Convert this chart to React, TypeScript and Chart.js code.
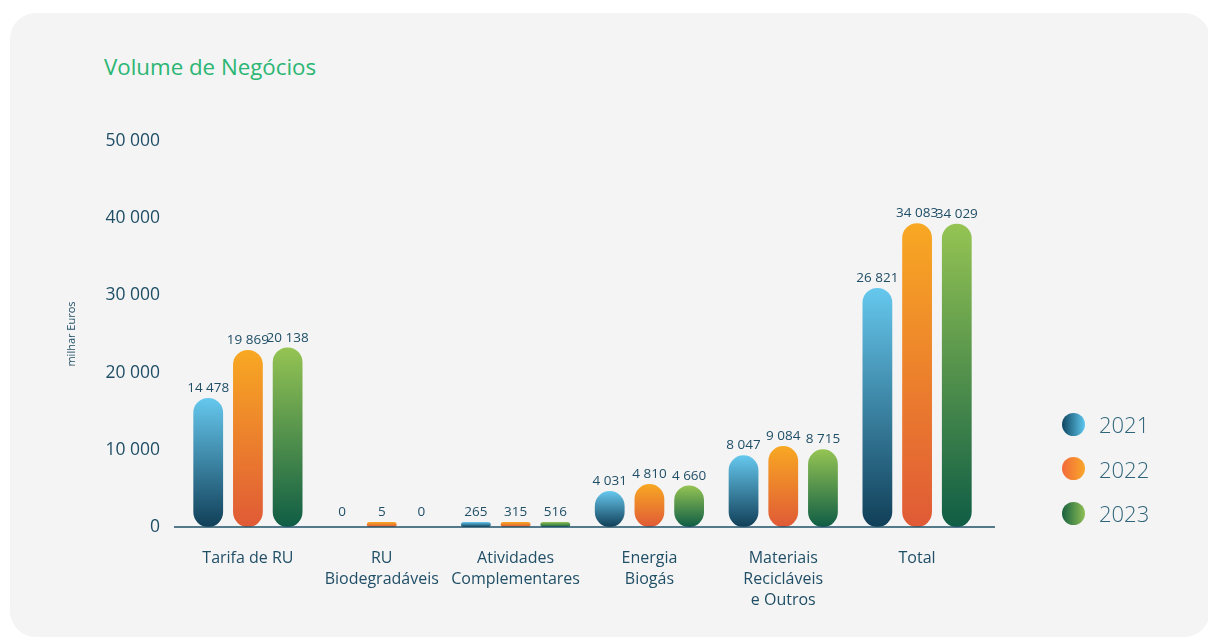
import React, { useEffect, useRef } from "react";
import { Chart, registerables } from "chart.js";

Chart.register(...registerables);

const categories: string[][] = [
  ["Tarifa de RU"],
  ["RU", "Biodegradáveis"],
  ["Atividades", "Complementares"],
  ["Energia", "Biogás"],
  ["Materiais", "Recicláveis", "e Outros"],
  ["Total"],
];
const years = ["2021", "2022", "2023"];
const values2021 = [14478, 0, 265, 4031, 8047, 26821];
const values2022 = [19869, 5, 315, 4810, 9084, 34083];
const values2023 = [20138, 0, 516, 4660, 8715, 34029];
const yTicks = [0, 10000, 20000, 30000, 40000, 50000];
const barScaleMax = 43300;

const barTop = ["#66c8ee", "#f8a823", "#95c453"];
const barBottom = ["#113f58", "#e05a36", "#0f5d45"];
const legendLeft = ["#0f4660", "#f26a3b", "#17613f"];
const legendRight = ["#5fc8ef", "#f9a72a", "#8fbf55"];

const TEXT = "#1f4e66";
const FONT = "'Open Sans', 'Noto Sans', sans-serif";

const fmt = (v: number) => String(v).replace(/\B(?=(\d{3})+(?!\d))/g, " ");

const baselinePlugin = {
  id: "baseline",
  afterDatasetsDraw(chart: any) {
    const { ctx, chartArea } = chart;
    const y = chart.scales.yb.getPixelForValue(0);
    ctx.save();
    ctx.strokeStyle = "#1f5069";
    ctx.lineWidth = 1.6;
    ctx.beginPath();
    ctx.moveTo(chartArea.left - 7, y);
    ctx.lineTo(chartArea.right + 11, y);
    ctx.stroke();
    ctx.restore();
  },
};

const labelPlugin = {
  id: "valueLabels",
  afterDatasetsDraw(chart: any) {
    const { ctx } = chart;
    ctx.save();
    ctx.font = `13.5px ${FONT}`;
    ctx.fillStyle = TEXT;
    ctx.textAlign = "center";
    ctx.textBaseline = "bottom";
    chart.data.datasets.forEach((ds: any, di: number) => {
      const meta = chart.getDatasetMeta(di);
      meta.data.forEach((bar: any, i: number) => {
        ctx.fillText(fmt(ds.data[i]), bar.x, bar.y - 3);
      });
    });
    ctx.restore();
  },
};

export default function App() {
  const ref = useRef<HTMLCanvasElement | null>(null);

  useEffect(() => {
    if (!ref.current) return;
    const series = [values2021, values2022, values2023];
    const chart = new Chart(ref.current, {
      type: "bar",
      data: {
        labels: categories,
        datasets: series.map((vals, si) => ({
          label: years[si],
          data: vals,
          yAxisID: "yb",
          backgroundColor: (c: any) => {
            const v = c.raw as number;
            if (!v) return "rgba(0,0,0,0)";
            const sc = c.chart.scales.yb;
            if (!sc || !c.chart.chartArea) return barTop[si];
            const base = sc.getPixelForValue(0);
            let top = sc.getPixelForValue(v);
            if (base - top < 5) top = base - 5;
            const g = c.chart.ctx.createLinearGradient(0, top, 0, base);
            g.addColorStop(0, barTop[si]);
            g.addColorStop(1, barBottom[si]);
            return g;
          },
          borderRadius: 15,
          borderSkipped: false,
          borderWidth: 0,
          minBarLength: 5,
          categoryPercentage: 0.89,
          barPercentage: 0.75,
        })),
      },
      options: {
        responsive: false,
        animation: false,
        events: [],
        layout: { padding: { left: 55, right: 226, top: 128, bottom: 0 } },
        plugins: {
          legend: { display: false },
          title: { display: false },
          tooltip: { enabled: false },
        },
        scales: {
          x: {
            grid: { display: false, drawTicks: false },
            border: { display: false },
            ticks: {
              color: TEXT,
              font: { family: FONT, size: 16, lineHeight: 1.32 },
              padding: 21,
              maxRotation: 0,
              autoSkip: false,
            },
            afterFit: (s: any) => {
              s.height = 110;
            },
          },
          y: {
            type: "linear",
            position: "left",
            min: 0,
            max: 50000,
            grid: { display: false, drawTicks: false },
            border: { display: false },
            afterBuildTicks: (s: any) => {
              s.ticks = yTicks.map((v) => ({ value: v }));
            },
            ticks: {
              color: TEXT,
              font: { family: FONT, size: 17.5 },
              padding: 21,
              callback: (v: any) => fmt(Number(v)),
            },
            title: {
              display: true,
              text: "milhar Euros",
              color: TEXT,
              font: { family: FONT, size: 11 },
              padding: 0,
            },
            afterFit: (s: any) => {
              s.width = 116;
            },
          },
          yb: {
            type: "linear",
            display: false,
            min: 0,
            max: barScaleMax,
          },
        },
      },
      plugins: [baselinePlugin, labelPlugin],
    } as any);
    return () => chart.destroy();
  }, []);

  return (
    <div
      style={{
        position: "fixed",
        left: 10,
        top: 13,
        width: 1200,
        height: 624,
        background: "#f4f4f4",
        borderRadius: 26,
        overflow: "hidden",
        fontFamily: FONT,
      }}
    >
      <div
        style={{
          position: "absolute",
          left: 94,
          top: 39,
          fontSize: 22.3,
          lineHeight: "30px",
          color: "#2bb673",
          whiteSpace: "nowrap",
        }}
      >
        Volume de Negócios
      </div>
      <canvas
        ref={ref}
        width={1200}
        height={624}
        style={{ position: "absolute", left: 0, top: 0, width: 1200, height: 624 }}
      />
      <div style={{ position: "absolute", left: 1052, top: 389 }}>
        {years.map((y, i) => (
          <div
            key={y}
            style={{ display: "flex", alignItems: "center", height: 44.5 }}
          >
            <span
              style={{
                display: "inline-block",
                width: 23,
                height: 23,
                borderRadius: "50%",
                background: `linear-gradient(to right, ${legendLeft[i]}, ${legendRight[i]})`,
              }}
            />
            <span
              style={{
                marginLeft: 14,
                fontSize: 22,
                fontWeight: 300,
                color: "#2f657b",
                lineHeight: "30px",
              }}
            >
              {y}
            </span>
          </div>
        ))}
      </div>
    </div>
  );
}
